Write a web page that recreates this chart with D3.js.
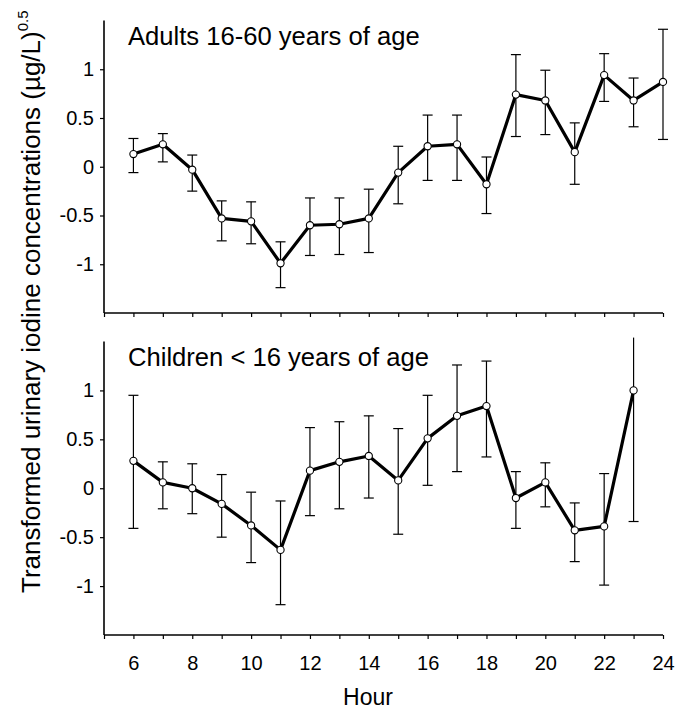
<!DOCTYPE html>
<html>
<head>
<meta charset="utf-8">
<script src="https://cdnjs.cloudflare.com/ajax/libs/d3/7.8.5/d3.min.js"></script>
<style>
  body { margin: 0; background: #fff; }
  text { font-family: "Liberation Sans", Arial, sans-serif; fill: #000; }
</style>
</head>
<body>
<svg id="chart"></svg>
<script>
// hours of day
const hours = [6, 7, 8, 9, 10, 11, 12, 13, 14, 15, 16, 17, 18, 19, 20, 21, 22, 23, 24];

// adults 16-60: mean, upper and lower error bar ends
const adultMean  = [0.13, 0.23, -0.03, -0.53, -0.56, -0.99, -0.60, -0.59, -0.53, -0.06, 0.21, 0.23, -0.18, 0.74, 0.68, 0.15, 0.94, 0.68, 0.87];
const adultHigh  = [0.29, 0.34, 0.12, -0.35, -0.36, -0.77, -0.32, -0.32, -0.23, 0.21, 0.53, 0.53, 0.10, 1.15, 0.99, 0.45, 1.16, 0.91, 1.41];
const adultLow   = [-0.06, 0.05, -0.25, -0.76, -0.79, -1.24, -0.91, -0.90, -0.88, -0.38, -0.14, -0.14, -0.48, 0.31, 0.33, -0.18, 0.67, 0.41, 0.28];

// children < 16 (no value at hour 24)
const childMean  = [0.28, 0.06, 0.00, -0.16, -0.38, -0.63, 0.18, 0.27, 0.33, 0.08, 0.51, 0.74, 0.84, -0.10, 0.06, -0.43, -0.39, 1.00];
const childHigh  = [0.95, 0.27, 0.25, 0.14, -0.04, -0.13, 0.62, 0.68, 0.74, 0.61, 0.95, 1.26, 1.30, 0.17, 0.26, -0.15, 0.15, 1.54];
const childLow   = [-0.41, -0.21, -0.26, -0.50, -0.76, -1.19, -0.28, -0.21, -0.10, -0.47, 0.03, 0.17, 0.32, -0.41, -0.19, -0.75, -0.99, -0.34];

const yTicks = [-1, -0.5, 0, 0.5, 1];
const xTickLabels = [6, 8, 10, 12, 14, 16, 18, 20, 22, 24];

const width = 679;
const height = 711;

const svg = d3.select('#chart')
  .attr('width', width)
  .attr('height', height);

const x = d3.scaleLinear()
  .domain([5, 24])
  .range([104, 663]);

const panels = [
  { title: 'Adults 16-60 years of age', mean: adultMean, high: adultHigh, low: adultLow, top: 20.5, bottom: 313, titleY: 45 },
  { title: 'Children < 16 years of age', mean: childMean, high: childHigh, low: childLow, top: 341.5, bottom: 635, titleY: 366 }
];

panels.forEach((p, pi) => {
  const y = d3.scaleLinear()
    .domain([-1.5, 1.5])
    .range([p.bottom, p.top]);

  const rows = p.mean.map((m, i) => ({ hour: hours[i], mean: m, high: p.high[i], low: p.low[i] }));

  // x axis
  const xAxis = d3.axisBottom(x)
    .tickValues(d3.range(5, 25))
    .tickSize(4)
    .tickFormat(d => (pi === 1 && xTickLabels.includes(d)) ? d : '');
  const gx = svg.append('g')
    .attr('transform', `translate(0, ${p.bottom})`)
    .call(xAxis);
  gx.select('.domain').attr('d', `M${x(5)},0H${x(24)}`).attr('stroke-width', 1.6);
  gx.selectAll('.tick line').attr('stroke-width', 1.2);
  gx.selectAll('.tick text')
    .attr('dy', 0)
    .attr('y', 35)
    .style('font-size', '20px')
    .style('font-family', '"Liberation Sans", Arial, sans-serif');

  // y axis
  const yAxis = d3.axisLeft(y)
    .tickValues(yTicks)
    .tickSize(4)
    .tickPadding(6);
  const gy = svg.append('g')
    .attr('transform', `translate(${x(5)}, 0)`)
    .call(yAxis);
  gy.select('.domain').attr('d', `M0,${p.bottom}V${p.top}`).attr('stroke-width', 1.6);
  gy.selectAll('.tick line').attr('stroke-width', 1.2);
  gy.selectAll('.tick text')
    .text(d => d < 0 ? '-' + Math.abs(d) : d)
    .style('font-size', '20px')
    .style('font-family', '"Liberation Sans", Arial, sans-serif');

  // panel title
  svg.append('text')
    .attr('x', 128)
    .attr('y', p.titleY)
    .style('font-size', '25.6px')
    .text(p.title);

  // error bars
  const eb = svg.append('g')
    .attr('stroke', '#000')
    .attr('stroke-width', 1.2);
  eb.selectAll('line.bar')
    .data(rows)
    .enter().append('line')
    .attr('x1', d => x(d.hour))
    .attr('x2', d => x(d.hour))
    .attr('y1', d => y(Math.min(d.high, 1.55)))
    .attr('y2', d => y(d.low));
  eb.selectAll('line.capHigh')
    .data(rows.filter(d => d.high <= 1.5))
    .enter().append('line')
    .attr('x1', d => x(d.hour) - 5)
    .attr('x2', d => x(d.hour) + 5)
    .attr('y1', d => y(d.high))
    .attr('y2', d => y(d.high));
  eb.selectAll('line.capLow')
    .data(rows)
    .enter().append('line')
    .attr('x1', d => x(d.hour) - 5)
    .attr('x2', d => x(d.hour) + 5)
    .attr('y1', d => y(d.low))
    .attr('y2', d => y(d.low));

  // mean line
  const line = d3.line()
    .x(d => x(d.hour))
    .y(d => y(d.mean));
  svg.append('path')
    .datum(rows)
    .attr('fill', 'none')
    .attr('stroke', '#000')
    .attr('stroke-width', 3.2)
    .attr('stroke-linejoin', 'round')
    .attr('d', line);

  // markers
  svg.append('g')
    .selectAll('circle')
    .data(rows)
    .enter().append('circle')
    .attr('cx', d => x(d.hour))
    .attr('cy', d => y(d.mean))
    .attr('r', 3.6)
    .attr('fill', '#fff')
    .attr('stroke', '#000')
    .attr('stroke-width', 1.1);
});

// x axis title
svg.append('text')
  .attr('x', 368)
  .attr('y', 705)
  .attr('text-anchor', 'middle')
  .style('font-size', '23px')
  .text('Hour');

// y axis title
const yLabel = svg.append('text')
  .attr('transform', 'translate(40, 593) rotate(-90)')
  .style('font-size', '26px');
yLabel.append('tspan').text('Transformed urinary iodine concentrations (\u00b5g/L)');
yLabel.append('tspan')
  .attr('dy', -12)
  .style('font-size', '15px')
  .text('0.5');
</script>
</body>
</html>
